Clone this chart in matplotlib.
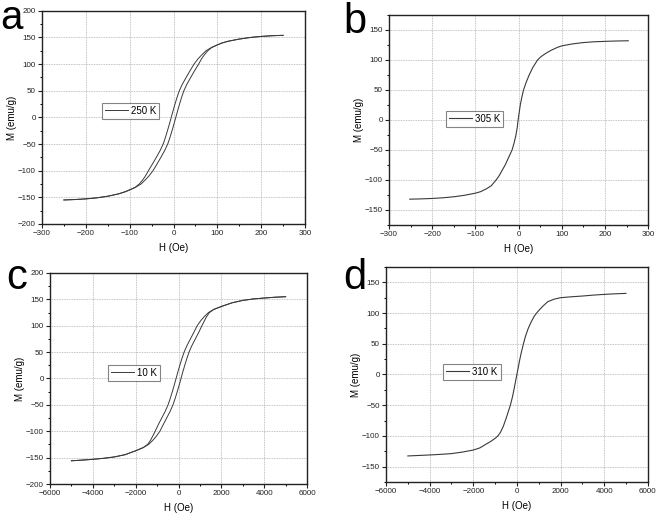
import numpy as np
import matplotlib
matplotlib.use('Agg')
import matplotlib.pyplot as plt
from matplotlib.ticker import MultipleLocator, AutoMinorLocator

plt.rcParams['font.family'] = ['Liberation Sans', 'DejaVu Sans']

# panel a, 250 K : hysteresis loop, field swept down then back up
H_a_down = [250, 225, 200, 175, 150, 125, 110, 97, 86, 74, 64, 56, 46.8, 37.6, 28.8, 20.3, 13.2, 8, 3.4, -1, -5.2,
            -9.4, -13.8, -18.4, -23.6, -30.7, -39.2, -48, -57.2, -64, -70, -78, -87, -97, -110, -125, -150, -175, -200, -225, -250]
M_a_down = [154, 153.3, 152, 150, 147, 143, 139.5, 135, 131, 125, 117, 110, 100, 87.5, 75, 62.5, 50, 37.5, 25, 12.5, 0,
            -12.5, -25, -37.5, -50, -62.5, -75, -87.5, -100, -110, -117, -125, -131, -135, -139.5, -143.5, -148, -151, -153, -154.2, -155]
H_a_up = [-250, -225, -200, -175, -150, -125, -110, -97, -86, -74, -64, -56, -46.8, -37.6, -28.8, -20.3, -13.2, -8, -3.4, 1, 5.2,
          9.4, 13.8, 18.4, 23.6, 30.7, 39.2, 48, 57.2, 64, 70, 78, 87, 97, 110, 125, 150, 175, 200, 225, 250]
M_a_up = [-155, -154.2, -153, -151, -148, -143.5, -139.5, -135, -131, -125, -117, -110, -100, -87.5, -75, -62.5, -50, -37.5, -25, -12.5, 0,
          12.5, 25, 37.5, 50, 62.5, 75, 87.5, 100, 110, 117, 125, 131, 135, 139.5, 143, 147, 150, 152, 153.3, 154]

# panel b, 305 K
H_b = [-252, -225, -200, -175, -150, -125, -100, -88, -75, -63, -52, -45, -38, -31, -23, -15, -10, -6, -3, -1,
       1.5, 4, 7.5, 11.5, 17.5, 24.6, 33, 44, 52, 63, 75, 90, 100, 125, 150, 175, 200, 225, 254]
M_b = [-132, -131.5, -130.8, -129.7, -128, -125.5, -122, -119.5, -115, -109.5, -100, -93, -84, -75, -62.5, -50, -37.5, -25, -12.5, 0,
       12.5, 25, 37.5, 50, 62.5, 75, 87.5, 100, 105.5, 111, 116, 121, 123.5, 126.8, 129, 130.3, 131, 131.6, 132]

# panel c, 10 K
H_c_down = [5000, 4500, 4000, 3500, 3000, 2500, 2000, 1650, 1395, 1195, 1045, 870, 715, 555, 395, 260, 155, 60, -30, -115,
            -200, -290, -385, -490, -625, -785, -945, -1090, -1215, -1305, -1445, -1650, -2000, -2500, -3000, -3500, -4000, -4500, -5000]
M_c_down = [155, 154, 152.5, 150.8, 148, 143.5, 136.5, 131, 125, 117, 110, 100, 87.5, 75, 62.5, 50, 37.5, 25, 12.5, 0,
            -12.5, -25, -37.5, -50, -62.5, -75, -87.5, -100, -110, -117, -125, -131, -137, -144.5, -148.7, -151.3, -153.2, -154.7, -156]
H_c_up = [-5000, -4500, -4000, -3500, -3000, -2500, -2000, -1650, -1395, -1195, -1045, -870, -715, -555, -395, -260, -155, -60, 30, 115,
          200, 290, 385, 490, 625, 785, 945, 1090, 1215, 1305, 1445, 1650, 2000, 2500, 3000, 3500, 4000, 4500, 5000]
M_c_up = [-156, -154.7, -153.2, -151.3, -148.7, -144.5, -137, -131, -125, -117, -110, -100, -87.5, -75, -62.5, -50, -37.5, -25, -12.5, 0,
          12.5, 25, 37.5, 50, 62.5, 75, 87.5, 100, 110, 117, 125, 131, 136.5, 143.5, 148, 150.8, 152.5, 154, 155]

# panel d, 310 K
H_d = [-5000, -4500, -4000, -3500, -3000, -2500, -2000, -1700, -1444, -1200, -1000, -872, -750, -620, -500, -400, -300, -200, -120, -50, 0,
       60, 130, 210, 300, 400, 520, 660, 780, 902, 1050, 1200, 1414, 1700, 2000, 2500, 3000, 3500, 4000, 4500, 5000]
M_d = [-132.6, -131.8, -131, -130, -128.8, -126.3, -123, -119.5, -114, -109, -104, -100, -94, -84, -72, -61, -50, -36, -22, -9, 0,
       11, 24, 37, 50, 63, 75, 86, 94, 100, 106, 111.5, 118.5, 122.5, 125, 126.5, 127.7, 129.2, 130.4, 131.3, 132]

temps = ['250 K', '305 K', '10 K', '310 K']
letters = ['a', 'b', 'c', 'd']

line_col = '#3a3a3a'

fig = plt.figure(figsize=(6.61, 5.16), dpi=100, facecolor='white')

rects = [(0.0635, 0.566, 0.398, 0.413),
         (0.5885, 0.564, 0.392, 0.407),
         (0.0756, 0.062, 0.389, 0.409),
         (0.584, 0.0659, 0.396, 0.4167)]
leg_pos = [(0.228, 0.568), (0.22, 0.543), (0.226, 0.564), (0.218, 0.549)]
letter_pos = [(0.0, 0.944), (0.519, 0.937), (0.01, 0.44), (0.519, 0.44)]

axes = [fig.add_axes(r) for r in rects]

axes[0].plot(H_a_down, M_a_down, color=line_col, lw=0.7, label=temps[0])
axes[0].plot(H_a_up, M_a_up, color=line_col, lw=0.7)
axes[1].plot(H_b, M_b, color=line_col, lw=0.8, label=temps[1])
axes[2].plot(H_c_down, M_c_down, color=line_col, lw=0.7, label=temps[2])
axes[2].plot(H_c_up, M_c_up, color=line_col, lw=0.7)
axes[3].plot(H_d, M_d, color=line_col, lw=0.8, label=temps[3])

xlims = [(-300, 300), (-300, 300), (-6000, 6000), (-6000, 6000)]
ylims = [(-200, 200), (-175, 175), (-200, 200), (-175, 175)]
xmaj = [100, 100, 2000, 2000]

for i, ax in enumerate(axes):
    ax.set_xlim(*xlims[i])
    ax.set_ylim(*ylims[i])
    ax.xaxis.set_major_locator(MultipleLocator(xmaj[i]))
    ax.yaxis.set_major_locator(MultipleLocator(50))
    ax.xaxis.set_minor_locator(AutoMinorLocator(2))
    ax.yaxis.set_minor_locator(AutoMinorLocator(2))
    ax.grid(True, which='major', color='#b0b0b0', lw=0.6, linestyle=(0, (1, 1)))
    ax.set_axisbelow(True)
    for s in ax.spines.values():
        s.set_linewidth(1.0)
        s.set_color('#222222')
    ax.tick_params(which='major', direction='out', length=3, width=0.8, labelsize=5.8,
                   pad=1.5, colors='#222222', top=False, right=False)
    ax.tick_params(which='minor', direction='out', length=1.6, width=0.7, top=False, right=False)
    ax.set_xlabel('H (Oe)', fontsize=7, labelpad=4)
    ax.set_ylabel('M (emu/g)', fontsize=7, labelpad=0.5)
    leg = ax.legend(loc='upper left', bbox_to_anchor=leg_pos[i], fontsize=7, frameon=True,
                    fancybox=False, handlelength=2.4, handletextpad=0.3, borderpad=0.3,
                    borderaxespad=0)
    leg.get_frame().set_edgecolor('#666666')
    leg.get_frame().set_linewidth(0.8)
    fig.text(letter_pos[i][0], letter_pos[i][1], letters[i], fontsize=29 if i == 0 else 30,
             color='black', ha='left', va='baseline')

fig.savefig('out.png', dpi=100, facecolor='white')
